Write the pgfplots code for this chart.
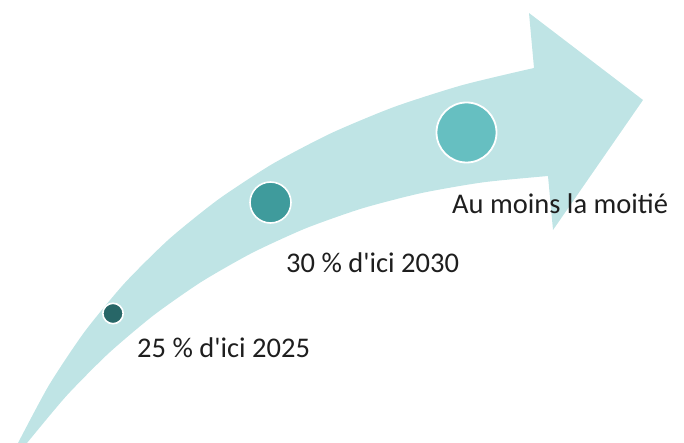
\documentclass[border=0pt]{standalone}
\usepackage{pgfplots}
\pgfplotsset{compat=1.18}
\usepackage{fontspec}
\newfontfamily\cfont{Carlito}
\definecolor{arrowfill}{HTML}{BFE4E5}
\definecolor{dotA}{HTML}{276667}
\definecolor{dotB}{HTML}{3F9B9C}
\definecolor{dotC}{HTML}{66BFC1}
\definecolor{txt}{HTML}{1E1E1E}
\begin{document}
\begin{tikzpicture}
\begin{axis}[
  hide axis, scale only axis,
  width=684pt, height=443pt,
  xmin=0, xmax=684, ymin=0, ymax=443,
  y dir=reverse, clip=false,
]
\addplot[draw=none, forget plot] coordinates {(0,0) (684,443)};
% shaft
\addplot[draw=none, fill=arrowfill, smooth, tension=0.4, forget plot] coordinates {
 (18,443) (48.9,385.3) (84.4,332.0) (124.5,283.3) (169.2,239.0) (218.5,199.3) (272.4,164.0) (330.9,133.3) (394.0,107.0) (461.7,85.3) (534,68) (566,62)
 (566,175) (548,176) (483.2,182.3) (421.2,193.1) (362.1,208.4) (305.8,228.3) (252.3,252.8) (201.6,281.7) (153.7,315.2) (108.6,353.3) (66.4,395.9) (27,443)
} -- cycle;
% head
\addplot[draw=none, fill=arrowfill, forget plot] coordinates {
 (534,68) (529,13) (643,100) (553,230) (548,176) (540,120)
} -- cycle;
% markers
\addplot[only marks, mark=*, color=dotA, mark size=10.2pt, mark options={draw=white, line width=1.6pt}] coordinates {(113,313.5)};
\addplot[only marks, mark=*, color=dotB, mark size=20.5pt, mark options={draw=white, line width=1.6pt}] coordinates {(270.5,202.5)};
\addplot[only marks, mark=*, color=dotC, mark size=30pt, mark options={draw=white, line width=1.8pt}] coordinates {(466.5,132.5)};
% labels
\node[anchor=base west, inner sep=0pt, text=txt, font=\cfont\fontsize{28.5}{34}\selectfont] at (axis cs:137,357) {25 \% d'ici 2025};
\node[anchor=base west, inner sep=0pt, text=txt, font=\cfont\fontsize{28.5}{34}\selectfont] at (axis cs:286,272) {30 \% d'ici 2030};
\node[anchor=base west, inner sep=0pt, text=txt, font=\cfont\fontsize{28.5}{34}\selectfont] at (axis cs:452,214) {Au moins la moitié};
\end{axis}
\end{tikzpicture}
\end{document}
